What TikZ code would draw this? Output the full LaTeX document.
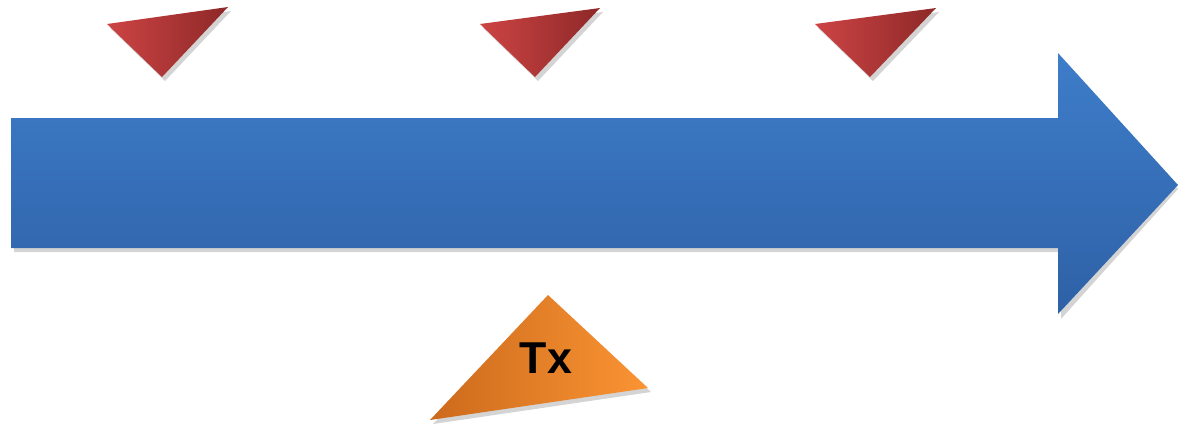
\documentclass[tikz,border=0pt]{standalone}
\usepackage{fontspec}
\setmainfont{Liberation Sans}
\usepackage{xcolor}
\usepackage{tikz}
\definecolor{TLBlueTop}{HTML}{3E7DCA}
\definecolor{TLBlueBot}{HTML}{2E61A6}
\definecolor{TLRedLight}{HTML}{CD4444}
\definecolor{TLRedDark}{HTML}{8E2828}
\definecolor{TLOrangeDark}{HTML}{CC6A1C}
\definecolor{TLOrangeLight}{HTML}{FA9433}
\definecolor{TLShadow}{HTML}{D4D4D4}

\begin{document}
\begin{tikzpicture}[x=0.01cm,y=-0.01cm]
\path[use as bounding box] (0,0) rectangle (1178,423);
% soft shadows
\fill[TLShadow] (14,122) -- (1061,122) -- (1061,57) -- (1178,189) -- (1061,319) -- (1061,252) -- (14,252) -- cycle;
\fill[TLShadow] (110,28) -- (231,11) -- (165,81) -- cycle;
\fill[TLShadow] (483,28) -- (603,12) -- (538,81) -- cycle;
\fill[TLShadow] (818,28) -- (939,12) -- (873,81) -- cycle;
\fill[TLShadow] (551,299) -- (651,392) -- (433,424) -- cycle;
% timeline arrow
\shade[top color=TLBlueTop,bottom color=TLBlueBot] (11,118) -- (1058,118) -- (1058,53) -- (1178,185) -- (1058,314) -- (1058,248) -- (11,248) -- cycle;
% event markers
\shade[shading angle=135,left color=TLRedLight,right color=TLRedDark] (107,24) -- (228,7) -- (162,77) -- cycle;
\shade[shading angle=135,left color=TLRedLight,right color=TLRedDark] (480,24) -- (600,8) -- (535,77) -- cycle;
\shade[shading angle=135,left color=TLRedLight,right color=TLRedDark] (815,24) -- (936,8) -- (870,77) -- cycle;
% Tx marker
\shade[shading angle=60,left color=TLOrangeDark,right color=TLOrangeLight] (548,295) -- (648,388) -- (430,420) -- cycle;
\node[font=\fontsize{12.7}{15}\selectfont\bfseries] (tx) at (546,358) {Tx};
\end{tikzpicture}
\end{document}
